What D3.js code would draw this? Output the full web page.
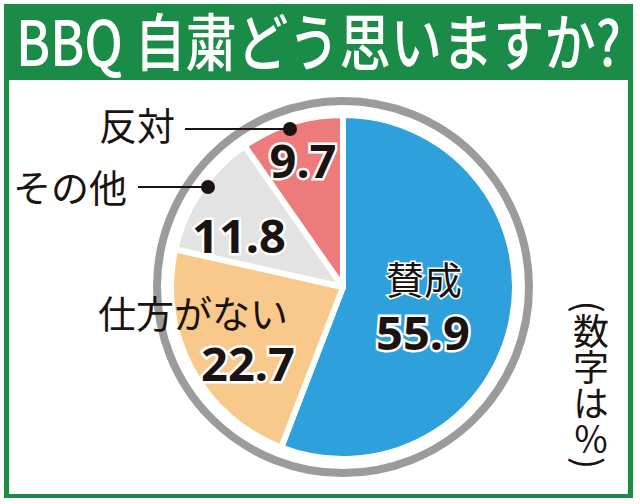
<!DOCTYPE html>
<html>
<head>
<meta charset="utf-8">
<script src="https://cdn.jsdelivr.net/npm/d3@7"></script>
<style>
  body { margin: 0; background: #fff; }
  svg { display: block; }
</style>
</head>
<body>
<svg width="640" height="504"></svg>
<script>
'use strict';

// data (percent)
var categories = ['賛成', '仕方がない', 'その他', '反対'];
var values = [55.9, 22.7, 11.8, 9.7];
var colors = ['#2ea1dd', '#f8c98b', '#e3e3e3', '#ed7b7b'];
var titleText = 'BBQ 自粛どう思いますか?';
var noteText = '(数字は％)';

var svg = d3.select('svg');
var jp = '"Noto Sans CJK JP", "Noto Sans", sans-serif';

// frame
svg.append('rect')
    .attr('x', 4).attr('y', 4)
    .attr('width', 629).attr('height', 494)
    .attr('fill', '#1b8c47');
svg.append('rect')
    .attr('x', 9).attr('y', 80)
    .attr('width', 619).attr('height', 414)
    .attr('fill', '#fff');

svg.append('text')
    .attr('x', 16).attr('y', 66)
    .attr('textLength', 605)
    .attr('lengthAdjust', 'spacingAndGlyphs')
    .attr('font-family', jp)
    .attr('font-weight', 500)
    .attr('font-size', 62)
    .attr('fill', '#fff')
    .text(titleText);

// pie
var cx = 343, cy = 287;
var g = svg.append('g').attr('transform', 'translate(' + cx + ',' + cy + ')');

g.append('circle')
    .attr('r', 186)
    .attr('fill', 'none')
    .attr('stroke', '#9b9b9b')
    .attr('stroke-width', 8);

var pie = d3.pie().sort(null).value(function(d){ return d; });
var arc = d3.arc().innerRadius(0).outerRadius(172);

var slices = pie(values);

g.selectAll('path.slice')
    .data(slices)
  .enter().append('path')
    .attr('class', 'slice')
    .attr('d', arc)
    .attr('fill', function(d, i){ return colors[i]; })
    .attr('stroke', '#fff')
    .attr('stroke-width', 6)
    .attr('stroke-linejoin', 'round');

// value labels, positioned by hand relative to the picture
var numPos = [[423, 350], [248, 381], [239, 253], [303, 178]];

svg.selectAll('text.num')
    .data(values)
  .enter().append('text')
    .attr('class', 'num')
    .attr('x', function(d, i){ return numPos[i][0]; })
    .attr('y', function(d, i){ return numPos[i][1]; })
    .attr('text-anchor', 'middle')
    .attr('font-family', '"Noto Sans", "Liberation Sans", sans-serif')
    .attr('font-weight', 700)
    .attr('font-size', 47)
    .attr('fill', '#1a1311')
    .attr('stroke', '#fff')
    .attr('stroke-width', 5)
    .attr('paint-order', 'stroke')
    .text(function(d){ return d3.format('.1f')(d); });

// 賛成 inside the slice
svg.append('text')
    .attr('x', 424).attr('y', 294)
    .attr('text-anchor', 'middle')
    .attr('font-family', jp)
    .attr('font-size', 38)
    .attr('fill', '#1a1311')
    .attr('stroke', '#fff')
    .attr('stroke-width', 3)
    .attr('paint-order', 'stroke')
    .text(categories[0]);

// outside labels
var outLabels = [
    {i: 1, x: 98, y: 328},
    {i: 2, x: 13, y: 202},
    {i: 3, x: 99, y: 140}
];
svg.selectAll('text.cat')
    .data(outLabels)
  .enter().append('text')
    .attr('class', 'cat')
    .attr('x', function(d){ return d.x; })
    .attr('y', function(d){ return d.y; })
    .attr('font-family', jp)
    .attr('font-size', 38)
    .attr('fill', '#1a1311')
    .text(function(d){ return categories[d.i]; });

// leaders for 反対 and その他
var leaders = [
    {x1: 185, x2: 290, y: 129},
    {x1: 138, x2: 208, y: 187}
];
svg.selectAll('line.lead')
    .data(leaders)
  .enter().append('line')
    .attr('class', 'lead')
    .attr('x1', function(d){ return d.x1; })
    .attr('x2', function(d){ return d.x2; })
    .attr('y1', function(d){ return d.y; })
    .attr('y2', function(d){ return d.y; })
    .attr('stroke', '#1a1311')
    .attr('stroke-width', 2);
svg.selectAll('circle.dot')
    .data(leaders)
  .enter().append('circle')
    .attr('class', 'dot')
    .attr('cx', function(d){ return d.x2; })
    .attr('cy', function(d){ return d.y; })
    .attr('r', 7)
    .attr('fill', '#1a1311');

// vertical note
svg.append('text')
    .attr('x', 591).attr('y', 385)
    .attr('text-anchor', 'middle')
    .style('writing-mode', 'vertical-rl')
    .style('text-orientation', 'mixed')
    .attr('font-family', jp)
    .attr('font-size', 36)
    .attr('fill', '#1a1311')
    .text(noteText);
</script>
</body>
</html>
